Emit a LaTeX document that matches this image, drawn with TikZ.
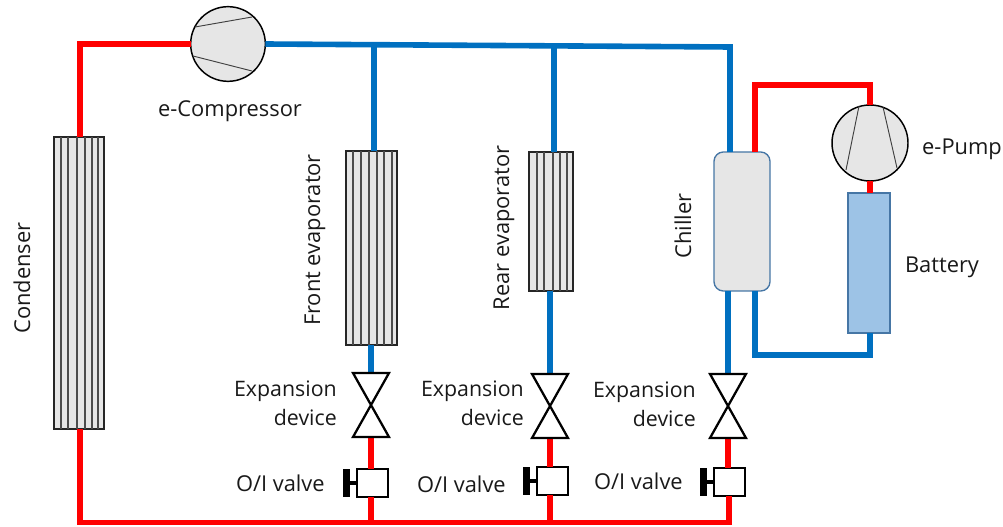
\documentclass[tikz,border=0pt]{standalone}
\usepackage{fontspec}
\setmainfont{Open Sans}
\definecolor{pipered}{RGB}{255,0,0}
\definecolor{pipeblue}{RGB}{0,112,192}
\definecolor{unitgrey}{RGB}{230,230,230}
\definecolor{edgeblue}{RGB}{70,118,165}
\definecolor{battblue}{RGB}{157,195,230}
\tikzset{
  redpipe/.style={draw=pipered,line width=4.2pt,line join=miter},
  bluepipe/.style={draw=pipeblue,line width=4.2pt,line join=miter},
  hx/.style={draw=black!85,line width=1.1pt,fill=unitgrey,inner sep=0pt,outer sep=0pt},
  fin/.style={draw=black!70,line width=0.9pt},
  machine/.style={circle,draw=black,line width=1.1pt,fill=unitgrey,inner sep=0pt,outer sep=0pt,minimum size=56pt},
  blade/.style={draw=black!75,line width=0.7pt},
  valvetri/.style={draw=black,line width=1.7pt,line join=miter,fill=white},
  oibox/.style={draw=black,line width=1.5pt,fill=white,inner sep=0pt,outer sep=0pt,minimum width=23pt,minimum height=21pt},
  oibar/.style={fill=black,inner sep=0pt,outer sep=0pt,minimum width=4.6pt,minimum height=21pt},
  stem/.style={draw=black,line width=3pt},
  lbl/.style={font=\fontsize{16.4}{16.4}\selectfont,text=black!90,inner sep=0pt},
  lblr/.style={lbl,align=right,font=\fontsize{16}{22}\selectfont},
}
\begin{document}
\begin{tikzpicture}[x=0.75pt,y=-0.75pt]
\useasboundingbox (0,0) rectangle (1003,527);
% coordinates
\coordinate (tl) at (80,44);
\coordinate (bl) at (80,522.5);
\coordinate (br) at (729,522.5);
\coordinate (tr) at (730,47);
\coordinate (j1) at (374,45);
\coordinate (j2) at (554,46);
\coordinate (b1) at (371,522.5);
\coordinate (b2) at (550,522.5);
\coordinate (c1) at (755,85);
\coordinate (c2) at (870,85);
\coordinate (c3) at (870,355);
\coordinate (c4) at (755,355);
% units
\node[machine] (comp) at (228,44) {};
\node[hx,minimum width=37.5pt,minimum height=219pt] (cond) at (79,283) {};
\node[hx,minimum width=38.25pt,minimum height=145.5pt] (fe) at (371.5,248) {};
\node[hx,minimum width=33pt,minimum height=104.25pt] (re) at (551,221.5) {};
\node[rectangle,rounded corners=7pt,draw=edgeblue,line width=1pt,fill=unitgrey,inner sep=0pt,outer sep=0pt,minimum width=42pt,minimum height=104.25pt] (chil) at (742,221.5) {};
\node[machine,minimum size=57pt] (pump) at (870,143) {};
\node[rectangle,draw=edgeblue,line width=1pt,fill=battblue,inner sep=0pt,outer sep=0pt,minimum width=31.5pt,minimum height=105pt] (batt) at (869,263) {};
% valves
\coordinate (v1) at (371,405);
\coordinate (v2) at (550,406);
\coordinate (v3) at (728,406);
\coordinate (v1t) at (371,373);
\coordinate (v2t) at (550,374);
\coordinate (v3t) at (728,374);
\coordinate (v1b) at (371,437);
\coordinate (v2b) at (550,438);
\coordinate (v3b) at (728,438);
\node[oibox] (o1) at (372.5,483) {};
\node[oibox] (o2) at (552.5,481) {};
\node[oibox] (o3) at (729.5,481.5) {};
\node[oibar] (h1) at (346.5,483) {};
\node[oibar] (h2) at (526.5,481) {};
\node[oibar] (h3) at (703.5,481.5) {};
% fins
\foreach \x in {61,68,77,85,92,98}{\draw[fin] (\x,137) -- (\x,429);}
\foreach \x in {353,361,369,377,384,392}{\draw[fin] (\x,151) -- (\x,345);}
\foreach \x in {537,544,553,560,567}{\draw[fin] (\x,152) -- (\x,291);}
% pipes
\draw[redpipe] (comp.west) -- (tl) -- (cond.north -| tl);
\draw[redpipe] (cond.south -| tl) -- (bl) -- (br) -- (o3.south -| br);
\draw[bluepipe] (comp.east) -- (tr) -- (tr |- chil.north);
\draw[bluepipe] (j1) -- (j1 |- fe.north);
\draw[bluepipe] (j2) -- (j2 |- re.north);
\draw[bluepipe] (fe.south -| v1) -- (v1t);
\draw[bluepipe] (re.south -| v2) -- (v2t);
\draw[bluepipe] (chil.south -| v3) -- (v3t);
\draw[redpipe] (v1b) -- (o1.north -| v1);
\draw[redpipe] (v2b) -- (o2.north -| v2);
\draw[redpipe] (v3b) -- (o3.north -| v3);
\draw[redpipe] (o1.south -| b1) -- (b1);
\draw[redpipe] (o2.south -| b2) -- (b2);
\draw[redpipe] (c1 |- chil.north) -- (c1) -- (c2) -- (pump.north);
\draw[redpipe] (pump.south) -- (batt.north -| pump);
\draw[bluepipe] (batt.south -| c3) -- (c3) -- (c4) -- (c4 |- chil.south);
% blades
\draw[blade] (195,27) -- (252,17);
\draw[blade] (193,56) -- (252,71);
\draw[blade] (859,106) -- (846,170);
\draw[blade] (883,107) -- (897,168);
% valve shapes
\foreach \v in {v1,v2,v3}{
  \draw[valvetri] ([shift={(-18,-32)}]\v) -- ([shift={(18,-32)}]\v) -- ([shift={(-18,32)}]\v) -- ([shift={(18,32)}]\v) -- cycle;
}
% handles
\draw[stem] (h1.center) -- (o1.west);
\draw[stem] (h2.center) -- (o2.west);
\draw[stem] (h3.center) -- (o3.west);
% labels
\node[lbl] (tcomp) at (230,111) {e-Compressor};
\node[lbl,rotate=90] (tcond) at (22,278) {Condenser};
\node[lbl,rotate=90] (tfe) at (315,240) {Front evaporator};
\node[lbl,rotate=90] (tre) at (504,228) {Rear evaporator};
\node[lbl,rotate=90] (tchil) at (683,226) {Chiller};
\node[lbl] (tpump) at (962,149) {e-Pump};
\node[lbl] (tbatt) at (942,267) {Battery};
\node[lblr,anchor=east] (e1) at (337,403) {Expansion\\device};
\node[lblr,anchor=east] (e2) at (524,403) {Expansion\\device};
\node[lblr,anchor=east] (e3) at (696,404) {Expansion\\device};
\node[lbl,anchor=east] (t1) at (325,483) {O/I valve};
\node[lbl,anchor=east] (t2) at (506,484) {O/I valve};
\node[lbl,anchor=east] (t3) at (683,481) {O/I valve};
\end{tikzpicture}
\end{document}
